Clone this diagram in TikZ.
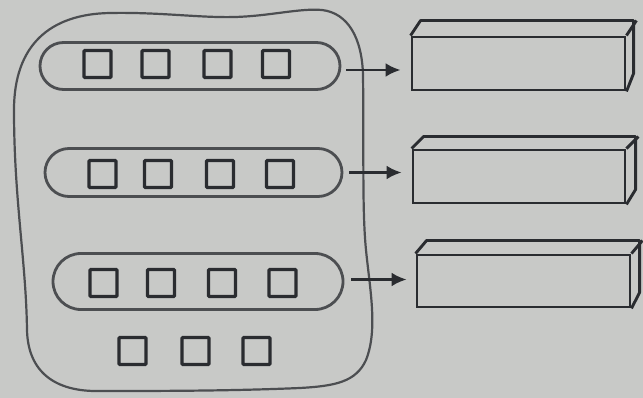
\documentclass[tikz,border=0pt]{standalone}
\usetikzlibrary{shapes.misc,arrows.meta,calc}
\definecolor{paper}{HTML}{C8C9C7}
\definecolor{ink}{HTML}{2A2C30}
\definecolor{pencil}{HTML}{4C4E51}
\tikzset{
  blob/.style={draw=pencil, line width=2.2pt, line join=round},
  pill/.style={draw=pencil, line width=2.8pt, rounded rectangle, inner sep=0pt},
  sq/.style={draw=ink, line width=3.2pt, minimum size=27pt, inner sep=0pt, rounded corners=1pt},
  front/.style={draw=ink, line width=2.9pt, inner sep=0pt},
  edge3d/.style={draw=ink, line width=2.9pt, line join=round},
  arr/.style={draw=ink, line width=2.6pt, -{Latex[length=15pt,width=14pt]}}
}
\begin{document}
\begin{tikzpicture}[x=1pt,y=-1pt]
  % sheet
  \fill[paper] (0,0) rectangle (643,398);
  \useasboundingbox (0,0) rectangle (643,398);

  % outer loop around the groups
  \draw[blob] (110,13) .. controls (160,12) and (200,18) .. (235,17)
    .. controls (270,16) and (300,8) .. (322,10)
    .. controls (348,13) and (362,38) .. (363,75)
    .. controls (364,150) and (362,210) .. (366,250)
    .. controls (370,290) and (378,330) .. (366,360)
    .. controls (356,382) and (335,386) .. (300,388)
    .. controls (230,391) and (160,391) .. (100,391)
    .. controls (55,392) and (28,372) .. (27,330)
    .. controls (26,260) and (14,200) .. (14,110)
    .. controls (14,45) and (50,14) .. cycle;

  % three groups
  \node[pill, minimum width=300pt, minimum height=47pt] (p1) at (190,66) {};
  \node[pill, minimum width=297pt, minimum height=48pt] (p2) at (193.5,172.5) {};
  \node[pill, minimum width=290pt, minimum height=56pt] (p3) at (198,281.5) {};

  % items in the groups
  \foreach \x [count=\i] in {97.5,155.5,217.5,276}
    \node[sq] (a\i) at (\x,64) {};
  \foreach \x [count=\i] in {102.5,158,220,280}
    \node[sq] (b\i) at (\x,174) {};
  \foreach \x [count=\i] in {103.5,161,222,282.5}
    \node[sq] (c\i) at (\x,283) {};
  % loose items
  \foreach \x [count=\i] in {132.5,195.5,256.5}
    \node[sq] (d\i) at (\x,351) {};

  % bars (front faces)
  \node[front, minimum width=213pt, minimum height=53pt] (r1) at (518.5,63.5) {};
  \node[front, minimum width=212pt, minimum height=53pt] (r2) at (519,176.5) {};
  \node[front, minimum width=213pt, minimum height=52pt] (r3) at (523.5,281) {};

  % bars (top and side faces)
  \draw[edge3d] (r1.north west) -- ++(10,-15) -- ++(213,0) -- ++(0,53) -- (r1.south east);
  \draw[edge3d] (r1.north east) -- ++(10,-15);
  \draw[edge3d] (r2.north west) -- ++(12,-12) -- ++(212,0) -- ++(0,53) -- (r2.south east);
  \draw[edge3d] (r2.north east) -- ++(12,-12);
  \draw[edge3d] (r3.north west) -- ++(11,-13) -- ++(213,0) -- ++(0,52) -- (r3.south east);
  \draw[edge3d] (r3.north east) -- ++(11,-13);

  % arrows from groups to bars
  \draw[arr] ($(p1.east)+(5,4)$) -- ($(r1.west|-p1.east)+(-10,4)$);
  \draw[arr] ($(p2.east)+(6,0)$) -- ($(r2.west|-p2.east)+(-10,0)$);
  \draw[arr] ($(p3.east)+(7,-2)$) -- ($(r3.west|-p3.east)+(-9,-2)$);
\end{tikzpicture}
\end{document}
